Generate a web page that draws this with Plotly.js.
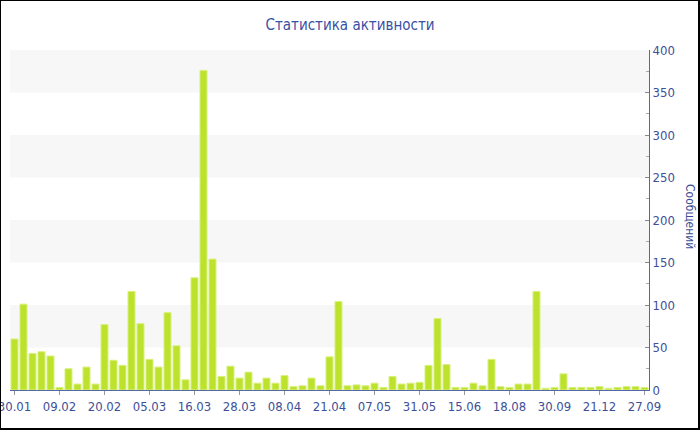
<!DOCTYPE html>
<html>
<head>
<meta charset="utf-8">
<script src="https://cdn.plot.ly/plotly-3.0.1.min.js"></script>
<style>
html,body{margin:0;padding:0;background:#fff;}
#wrap{position:relative;width:700px;height:430px;}
#chart{width:700px;height:430px;}
#frame{position:absolute;left:0;top:0;width:700px;height:430px;box-sizing:border-box;border-style:solid;border-color:#000;border-width:1px 2px 2px 1px;pointer-events:none;}
</style>
</head>
<body>
<div id="wrap"><div id="chart"></div><div id="frame"></div></div>
<script>
var chartTitle = "Статистика активности";
var yTitle = "Сообщений";
var messages = [60,101,43,45,40,3,25,7,27,7,
                77,35,29,116,78,36,27,91,52,12,
                132,376,154,16,28,14,21,8,14,8,
                17,4,5,14,5,39,104,5,6,5,
                8,3,16,7,8,9,29,84,30,3,
                3,8,5,36,4,3,7,7,116,2,
                3,19,3,3,3,4,2,3,4,4,3];
var tickLabels = ["30.01","09.02","20.02","05.03","16.03","28.03","08.04","21.04",
                  "07.05","31.05","15.06","18.08","30.09","21.12","27.09"];
var labelEvery = 5;
var yMax = 400, yStep = 50;

var idx = messages.map(function(_, i){ return i; });
var tickVals = tickLabels.map(function(_, i){ return i * labelEvery; });

var axisColor = '#5468a8';
var textColor = '#3e4f98';

var shapes = [];
for (var v = yStep; v < yMax; v += 2 * yStep) {
  shapes.push({type:'rect', xref:'paper', yref:'y', x0:0, x1:1, y0:v, y1:v + yStep,
               fillcolor:'#f7f7f7', line:{width:0}, layer:'below'});
}

var trace = {
  type:'bar', x: idx, y: messages,
  marker:{color:'#bce22e', line:{color:'#d9f07c', width:1}},
  hoverinfo:'y'
};

var fontFam = 'DejaVu Sans Condensed, DejaVu Sans, sans-serif';

var layout = {
  width:700, height:430,
  margin:{l:10, r:51, t:50, b:40},
  paper_bgcolor:'#ffffff', plot_bgcolor:'#ffffff',
  font:{family:fontFam, color:textColor, size:13},
  title:{text:chartTitle, font:{family:fontFam, size:15, color:'#3a50a2'}, x:0.5, xanchor:'center',
         y:1 - 25/430, yanchor:'middle', yref:'container'},
  bargap:0.22,
  showlegend:false,
  xaxis:{range:[-0.5, messages.length - 0.5], tickmode:'array', tickvals:tickVals, ticktext:tickLabels,
         showgrid:false, zeroline:false, showline:true, linecolor:axisColor, linewidth:1,
         ticks:'outside', ticklen:4, tickcolor:'#999', ticklabeloverflow:'allow',
         automargin:false, tickfont:{family:fontFam, size:13, color:textColor}},
  yaxis:{side:'right', range:[0, yMax], dtick:yStep, showgrid:false, zeroline:false,
         showline:true, linecolor:axisColor, linewidth:1, automargin:false,
         ticks:'inside', ticklen:4, tickcolor:'#888', tickfont:{family:fontFam, size:13, color:textColor},
         minor:{dtick:yStep/2, ticks:'inside', ticklen:3, tickcolor:'#aaa'}},
  shapes:shapes,
  annotations:[{text:yTitle, xref:'paper', yref:'paper', x:1, y:0.5, xshift:41, yshift:4,
                xanchor:'center', yanchor:'middle', textangle:90, showarrow:false,
                font:{family:fontFam, size:12, color:textColor}}]
};

Plotly.newPlot('chart', [trace], layout, {displayModeBar:false, staticPlot:true});
</script>
</body>
</html>
